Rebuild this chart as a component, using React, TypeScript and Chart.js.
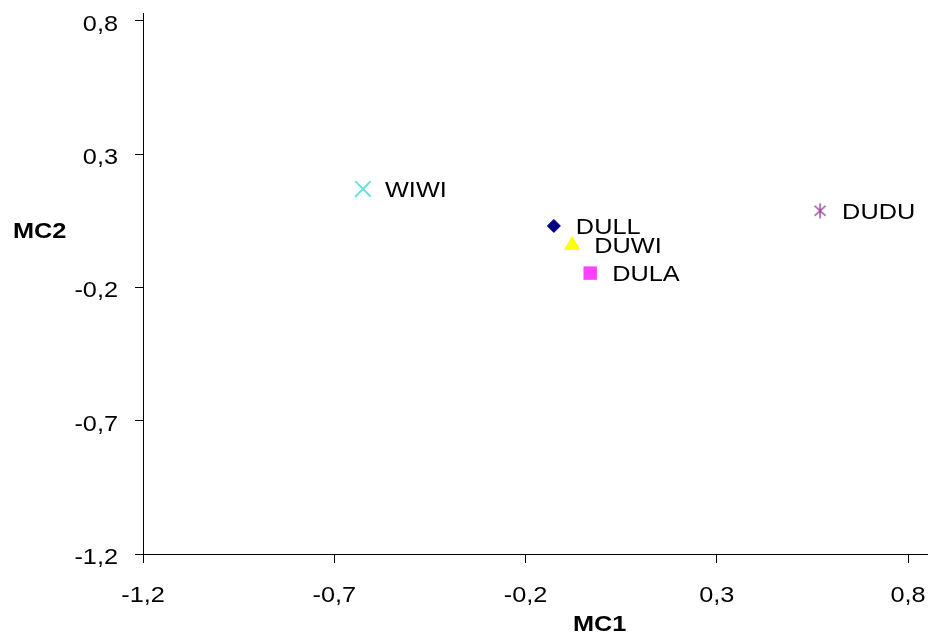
import { useEffect, useRef } from "react";
import { Chart, registerables } from "chart.js";

Chart.register(...registerables);

const names = ["WIWI", "DULL", "DUWI", "DULA", "DUDU"];
const mc1 = [-0.625, -0.126, -0.078, -0.031, 0.57];
const mc2 = [0.17, 0.031, -0.041, -0.146, 0.088];
const xTicks = [-1.2, -0.7, -0.2, 0.3, 0.8];
const yTicks = [-1.2, -0.7, -0.2, 0.3, 0.8];
const markerColors = ["#66E0E0", "#000080", "#FFFF00", "#FF40FF", "#9B4F9B"];

const FONT = "'Liberation Sans', Arial, sans-serif";
const SX = 1.15;

const fmt = (v: number) => v.toFixed(1).replace(".", ",");

function makeStar(color: string) {
  const c = document.createElement("canvas");
  c.width = 16;
  c.height = 16;
  const g = c.getContext("2d")!;
  g.strokeStyle = color;
  g.lineWidth = 1.5;
  g.beginPath();
  g.moveTo(2.5, 3);
  g.lineTo(13.5, 13);
  g.moveTo(13.5, 3);
  g.lineTo(2.5, 13);
  g.moveTo(8, 0.5);
  g.lineTo(8, 15.5);
  g.stroke();
  return c;
}

function drawText(ctx: CanvasRenderingContext2D, text: string, x: number, y: number, align: CanvasTextAlign) {
  ctx.save();
  ctx.translate(x, y);
  ctx.scale(SX, 1);
  ctx.textAlign = align;
  ctx.textBaseline = "alphabetic";
  ctx.fillText(text, 0, 0);
  ctx.restore();
}

const textPlugin = {
  id: "texts",
  afterDraw(chart: any) {
    const ctx: CanvasRenderingContext2D = chart.ctx;
    const a = chart.chartArea;
    const xs = chart.scales.x;
    const ys = chart.scales.y;
    ctx.save();
    ctx.fillStyle = "#000";
    ctx.font = `22px ${FONT}`;
    // tick labels
    xs.ticks.forEach((t: any) => {
      drawText(ctx, fmt(t.value), xs.getPixelForValue(t.value), a.bottom + 48, "center");
    });
    ys.ticks.forEach((t: any) => {
      drawText(ctx, fmt(t.value), a.left - 25, ys.getPixelForValue(t.value) + 10, "right");
    });
    // point labels
    const meta = chart.getDatasetMeta(0);
    meta.data.forEach((el: any, i: number) => {
      drawText(ctx, names[i], el.x + 22, el.y + 8, "left");
    });
    // axis titles
    ctx.font = `bold 22px ${FONT}`;
    drawText(ctx, "MC2", 13, (a.top + a.bottom) / 2 - 46, "left");
    drawText(ctx, "MC1", a.left + 430, a.bottom + 77, "left");
    ctx.restore();
  },
};

export default function App() {
  const ref = useRef<HTMLCanvasElement>(null);
  useEffect(() => {
    document.body.style.margin = "0";
    const star = makeStar(markerColors[4]);
    const chart = new Chart(ref.current!, {
      type: "scatter",
      data: {
        datasets: [
          {
            data: mc1.map((x, i) => ({ x, y: mc2[i] })),
            pointStyle: ["crossRot", "rectRot", "triangle", "rect", star] as any,
            pointRadius: [11, 6.5, 8.5, 9.5, 7],
            backgroundColor: markerColors,
            borderColor: markerColors,
            pointBorderWidth: [2, 1, 1, 0, 1],
          },
        ],
      },
      options: {
        animation: false,
        responsive: false,
        events: [],
        layout: { autoPadding: false, padding: { top: 13, left: 0, right: 0, bottom: 0 } },
        plugins: { legend: { display: false }, tooltip: { enabled: false } },
        scales: {
          x: {
            type: "linear",
            min: -1.2,
            max: 0.852,
            afterBuildTicks: (s: any) => {
              s.ticks = xTicks.map((v) => ({ value: v }));
            },
            afterFit: (s: any) => {
              s.height = 81;
              s.paddingLeft = 0;
              s.paddingRight = 0;
              s.paddingTop = 0;
              s.paddingBottom = 0;
            },
            border: { display: true, color: "#000", width: 1 },
            grid: { drawOnChartArea: false, drawTicks: true, tickLength: 9, color: "#000" },
            ticks: { display: false, autoSkip: false },
          },
          y: {
            type: "linear",
            min: -1.2,
            max: 0.83,
            afterBuildTicks: (s: any) => {
              s.ticks = yTicks.map((v) => ({ value: v }));
            },
            afterFit: (s: any) => {
              s.width = 143;
              s.paddingLeft = 0;
              s.paddingRight = 0;
              s.paddingTop = 0;
              s.paddingBottom = 0;
            },
            border: { display: true, color: "#000", width: 1 },
            grid: { drawOnChartArea: false, drawTicks: true, tickLength: 8, color: "#000" },
            ticks: { display: false, autoSkip: false },
          },
        },
      },
      plugins: [textPlugin],
    });
    return () => chart.destroy();
  }, []);
  return <canvas ref={ref} width={928} height={635} style={{ display: "block" }} />;
}
